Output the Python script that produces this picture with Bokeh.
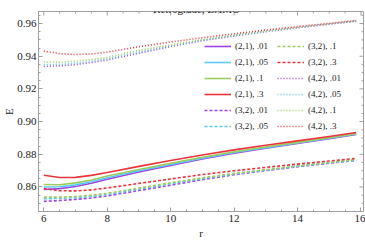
from math import pi
import numpy as np
from bokeh.plotting import figure
from bokeh.models import (SingleIntervalTicker, Range1d, Legend, LegendItem, Label,
                          PrintfTickFormatter)
from bokeh.embed import file_html
from bokeh.resources import INLINE

# ---- data ----
r = [6.0, 6.5, 7.0, 7.5, 8.0, 9.0, 10.0, 11.0, 12.0, 13.0, 14.0, 15.0, 15.85]

# (2,1) solid
e21_01 = [0.8585, 0.8590, 0.8603, 0.8623, 0.8647, 0.8692, 0.8732, 0.8771, 0.8806, 0.8837, 0.8866, 0.8896, 0.8922]
e21_05 = [0.8600, 0.8601, 0.8613, 0.8632, 0.8656, 0.8699, 0.8738, 0.8776, 0.8811, 0.8841, 0.8870, 0.8898, 0.8924]
e21_1 = [0.8615, 0.8614, 0.8625, 0.8643, 0.8667, 0.8707, 0.8745, 0.8782, 0.8816, 0.8845, 0.8873, 0.8901, 0.8926]
e21_3 = [0.8672, 0.8658, 0.8659, 0.8671, 0.8689, 0.8726, 0.8762, 0.8796, 0.8827, 0.8855, 0.8882, 0.8909, 0.8933]
# (3,2) dashed
e32_01 = [0.8512, 0.8517, 0.8524, 0.8533, 0.8545, 0.8578, 0.8611, 0.8645, 0.8675, 0.8700, 0.8724, 0.8745, 0.8763]
e32_05 = [0.8528, 0.8530, 0.8535, 0.8543, 0.8554, 0.8587, 0.8620, 0.8651, 0.8679, 0.8703, 0.8726, 0.8747, 0.8765]
e32_1 = [0.8538, 0.8538, 0.8542, 0.8550, 0.8561, 0.8593, 0.8626, 0.8656, 0.8683, 0.8706, 0.8729, 0.8750, 0.8768]
e32_3 = [0.8590, 0.8577, 0.8576, 0.8582, 0.8594, 0.8622, 0.8649, 0.8676, 0.8699, 0.8720, 0.8740, 0.8759, 0.8775]
# (4,2) dotted
e42_01 = [0.9338, 0.9341, 0.9349, 0.9361, 0.9377, 0.9418, 0.9459, 0.9495, 0.9524, 0.9550, 0.9574, 0.9596, 0.9615]
e42_05 = [0.9349, 0.9350, 0.9357, 0.9369, 0.9384, 0.9425, 0.9464, 0.9498, 0.9526, 0.9551, 0.9575, 0.9597, 0.9615]
e42_1 = [0.9365, 0.9364, 0.9369, 0.9380, 0.9393, 0.9436, 0.9470, 0.9501, 0.9528, 0.9553, 0.9576, 0.9598, 0.9616]
e42_3 = [0.9431, 0.9416, 0.9410, 0.9414, 0.9425, 0.9458, 0.9487, 0.9513, 0.9537, 0.9560, 0.9581, 0.9601, 0.9619]

labels = ["(2,1), .01", "(2,1), .05", "(2,1), .1", "(2,1), .3",
          "(3,2), .01", "(3,2), .05", "(3,2), .1", "(3,2), .3",
          "(4,2), .01", "(4,2), .05", "(4,2), .1", "(4,2), .3"]
values = [e21_01, e21_05, e21_1, e21_3,
          e32_01, e32_05, e32_1, e32_3,
          e42_01, e42_05, e42_1, e42_3]

PURPLE, CYAN, GREEN, RED = "#9b45e4", "#5ac8f2", "#9ccb5f", "#e8343a"
colors = [PURPLE, CYAN, GREEN, RED] * 3
dashes = ["solid"] * 4 + ["3 2"] * 4 + ["1 2"] * 4

SERIF = "Liberation Serif"
FRAME = "#a0a0a0"
TEXT = "#222222"

X0, X1 = 5.833, 16.08
Y0, Y1 = 0.845, 0.96735
XMAJ, YMAJ = 2.0, 0.02

p = figure(width=365, height=242, output_backend="svg", toolbar_location=None,
           x_range=Range1d(X0, X1), y_range=Range1d(Y0, Y1),
           min_border_left=38, min_border_right=2, min_border_top=11,
           min_border_bottom=31, background_fill_color="white",
           border_fill_color="white", outline_line_color=FRAME)
p.xgrid.visible = False
p.ygrid.visible = False

for ax, ticker, lab in ((p.xaxis[0], SingleIntervalTicker(interval=XMAJ, num_minor_ticks=4), "r"),
                        (p.yaxis[0], SingleIntervalTicker(interval=YMAJ, num_minor_ticks=4), "E")):
    ax.ticker = ticker
    ax.axis_line_color = FRAME
    ax.major_tick_line_color = FRAME
    ax.minor_tick_line_color = FRAME
    ax.major_tick_in = 4
    ax.major_tick_out = 0
    ax.minor_tick_in = 2
    ax.minor_tick_out = 0
    ax.major_label_text_font = SERIF
    ax.major_label_text_font_size = "11px"
    ax.major_label_text_color = TEXT
    ax.major_label_standoff = 3
    ax.axis_label = lab
    ax.axis_label_text_font = SERIF
    ax.axis_label_text_font_size = "11px"
    ax.axis_label_text_font_style = "normal"
    ax.axis_label_text_color = TEXT
    ax.axis_label_standoff = 2
p.yaxis[0].formatter = PrintfTickFormatter(format="%.2f")
p.yaxis[0].major_label_standoff = 2
p.yaxis[0].axis_label_standoff = -1

# frame ticks on top and right sides (Mathematica style), same tick spacing
xmin_t = np.arange(np.ceil(X0 / (XMAJ / 4)) * (XMAJ / 4), X1, XMAJ / 4)
ymin_t = np.arange(np.ceil(Y0 / (YMAJ / 4)) * (YMAJ / 4), Y1, YMAJ / 4)
xmaj = [t for t in xmin_t if abs(t / XMAJ - round(t / XMAJ)) < 1e-6]
xmin = [t for t in xmin_t if abs(t / XMAJ - round(t / XMAJ)) >= 1e-6]
ymaj = [t for t in ymin_t if abs(t / YMAJ - round(t / YMAJ)) < 1e-6]
ymin = [t for t in ymin_t if abs(t / YMAJ - round(t / YMAJ)) >= 1e-6]
p.scatter(xmaj, [Y1] * len(xmaj), marker="dash", angle=pi / 2, size=8, line_color=FRAME, line_width=1)
p.scatter(xmin, [Y1] * len(xmin), marker="dash", angle=pi / 2, size=4, line_color=FRAME, line_width=1)
p.scatter([X1] * len(ymaj), ymaj, marker="dash", size=8, line_color=FRAME, line_width=1)
p.scatter([X1] * len(ymin), ymin, marker="dash", size=4, line_color=FRAME, line_width=1)

renderers = []
for lab, ys, c, d in zip(labels, values, colors, dashes):
    rend = p.line(r, ys, line_color=c, line_width=1.6, line_dash=d, line_join="round")
    renderers.append(rend)


def make_legend(idx, loc):
    return Legend(items=[LegendItem(label=labels[i], renderers=[renderers[i]]) for i in idx],
                  location=loc, label_text_font=SERIF, label_text_font_size="9px",
                  label_text_color=TEXT, glyph_width=27, glyph_height=12,
                  label_height=12, label_standoff=4, spacing=4, padding=0, margin=0,
                  border_line_alpha=0, background_fill_alpha=0)


p.add_layout(make_legend(range(0, 6), (166, 79)))
p.add_layout(make_legend(range(6, 12), (239, 79)))

p.add_layout(Label(x=158, y=202.5, x_units="screen", y_units="screen",
                   text="Retrograde, ZAMO", text_font=SERIF, text_font_size="11px",
                   text_align="center", text_baseline="alphabetic", text_color=TEXT))

open("out.html", "w").write(file_html(p, INLINE))
